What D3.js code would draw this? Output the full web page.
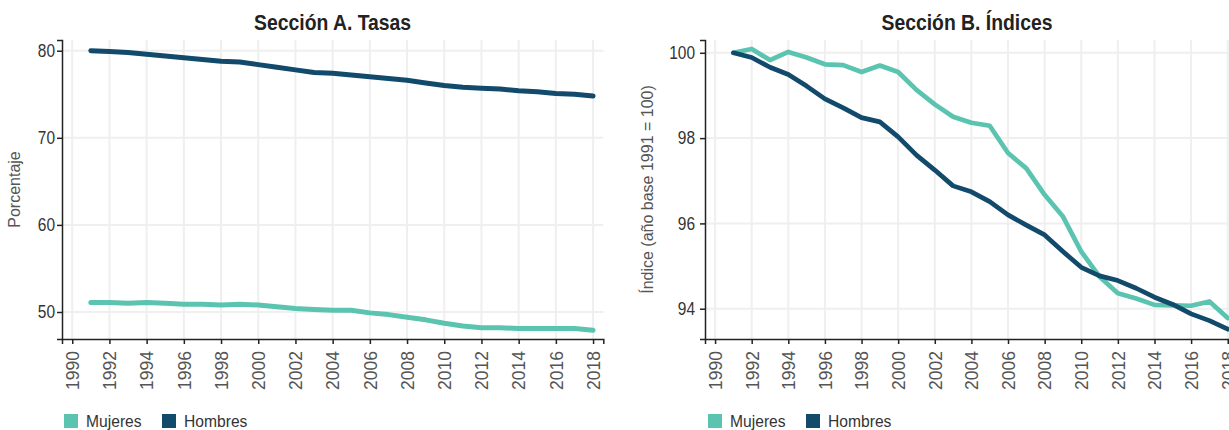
<!DOCTYPE html>
<html><head><meta charset="utf-8">
<script src="https://cdn.jsdelivr.net/npm/d3@7"></script>
<style>
body{margin:0;background:#fff;}
svg{display:block;}
</style></head><body>
<svg id="c" width="1229" height="430"></svg>
<script>
const years = [1991,1992,1993,1994,1995,1996,1997,1998,1999,2000,2001,2002,2003,2004,2005,2006,2007,2008,2009,2010,2011,2012,2013,2014,2015,2016,2017,2018];
const tasaMujeres = [51.1,51.1,51.0,51.1,51.0,50.9,50.9,50.8,50.9,50.8,50.6,50.4,50.3,50.2,50.2,49.9,49.7,49.4,49.1,48.7,48.4,48.2,48.2,48.1,48.1,48.1,48.1,47.9];
const tasaHombres = [80.0,79.9,79.8,79.6,79.4,79.2,79.0,78.8,78.7,78.4,78.1,77.8,77.5,77.4,77.2,77.0,76.8,76.6,76.3,76.0,75.8,75.7,75.6,75.4,75.3,75.1,75.0,74.8];
const indiceMujeres = [100,100.09,99.83,100.02,99.89,99.73,99.71,99.55,99.70,99.55,99.13,98.79,98.50,98.36,98.29,97.65,97.29,96.67,96.16,95.34,94.75,94.36,94.24,94.09,94.08,94.07,94.17,93.78];
const indiceHombres = [100,99.89,99.66,99.49,99.22,98.92,98.71,98.48,98.38,98.03,97.60,97.25,96.88,96.74,96.51,96.20,95.96,95.73,95.34,94.97,94.77,94.66,94.48,94.27,94.10,93.88,93.72,93.52];
const xTickYears = [1990,1992,1994,1996,1998,2000,2002,2004,2006,2008,2010,2012,2014,2016,2018];
const yTicksA = [50,60,70,80];
const yTicksB = [94,96,98,100];
const seriesNames = ["Mujeres","Hombres"];
const titles = ["Sección A. Tasas","Sección B. Índices"];
const yTitles = ["Porcentaje","Índice (año base 1991 = 100)"];

const colMuj = "#5bc4b0", colHom = "#124a6c";
const svg = d3.select("#c");
const regular = "'Liberation Sans',Arial,sans-serif";

function panel(cfg){
  const g = svg.append("g");
  const x = d3.scaleLinear().domain([1989.45, 2018.55]).range([cfg.x0, cfg.x1]);
  const y = d3.scaleLinear().domain(cfg.yDomain).range([339, 40]);
  // gridlines
  g.append("g").selectAll("line").data(xTickYears).join("line")
    .attr("x1", d=>x(d)).attr("x2", d=>x(d)).attr("y1", 40).attr("y2", 339)
    .attr("stroke", "#efefef").attr("stroke-width", 2);
  g.append("g").selectAll("line").data(cfg.yTicks).join("line")
    .attr("x1", cfg.x0).attr("x2", cfg.x1).attr("y1", d=>y(d)).attr("y2", d=>y(d))
    .attr("stroke", "#efefef").attr("stroke-width", 2);
  // axes
  const ax = g.append("g").attr("transform", "translate(0,339)")
    .call(d3.axisBottom(x).tickValues(xTickYears).tickFormat(d3.format("d")).tickSize(5).tickPadding(6));
  ax.select(".domain").attr("stroke", "#222").attr("stroke-width", 1.5);
  ax.selectAll(".tick line").attr("stroke", "#222").attr("stroke-width", 1.5);
  ax.selectAll(".tick text").attr("transform", "rotate(-90)")
    .attr("text-anchor", "end").attr("dx", null).attr("dy", "0.36em").attr("x", -12).attr("y", 0)
    .style("font-family", regular).style("font-size", "17.5px").attr("fill", "#555");
  const ay = g.append("g").attr("transform", `translate(${cfg.x0},0)`)
    .call(d3.axisLeft(y).tickValues(cfg.yTicks).tickFormat(d3.format("d")).tickSize(5).tickPadding(cfg.pad));
  ay.select(".domain").attr("stroke", "#222").attr("stroke-width", 1.5);
  ay.selectAll(".tick line").attr("stroke", "#222").attr("stroke-width", 1.5);
  ay.selectAll(".tick text").attr("x", 0).attr("transform", `translate(${-5-cfg.pad},0) scale(0.86,1)`)
    .style("font-family", regular).style("font-size", "18px").attr("fill", "#333");
  // lines
  const line = d3.line().x((d,i)=>x(years[i])).y(d=>y(d));
  [[cfg.muj, colMuj],[cfg.hom, colHom]].forEach(([vals,c])=>{
    g.append("path").datum(vals).attr("d", line).attr("fill","none")
      .attr("stroke", c).attr("stroke-width", cfg.lw).attr("stroke-linejoin","round").attr("stroke-linecap","round");
  });
  // title
  g.append("text").attr("transform", `translate(${cfg.tx},30) scale(0.88,1)`).attr("text-anchor","middle")
    .style("font-family", regular).style("font-weight","bold").style("font-size","22px").attr("fill","#222")
    .text(cfg.title);
  // y title
  g.append("text").attr("transform", `translate(${cfg.ytx},189.5) rotate(-90)`).attr("text-anchor","middle")
    .style("font-family", regular).style("font-size","16px").attr("fill","#555").text(cfg.ytitle);
  // legend
  const lg = g.append("g");
  const cols = [colMuj, colHom];
  seriesNames.forEach((n,i)=>{
    lg.append("rect").attr("x", cfg.lx[i]).attr("y", 414).attr("width", 14).attr("height", 14).attr("fill", cols[i]);
    lg.append("text").attr("transform", `translate(${cfg.lx[i]+22},427) scale(0.92,1)`)
      .style("font-family", regular).style("font-size","17px")
      .attr("fill","#333").text(n);
  });
}

panel({x0:62, x1:603.3, yDomain:[46.9,81.23], yTicks:yTicksA, muj:tasaMujeres, hom:tasaHombres, lw:5,
  tx:332.6, title:titles[0], ytx:20, ytitle:yTitles[0], lx:[64,162], pad:2});
panel({x0:705, x1:1237.8, yDomain:[93.29,100.30], yTicks:yTicksB, muj:indiceMujeres, hom:indiceHombres, lw:4.7,
  tx:967, title:titles[1], ytx:653, ytitle:yTitles[1], lx:[708,806], pad:5});
</script>
</body></html>
